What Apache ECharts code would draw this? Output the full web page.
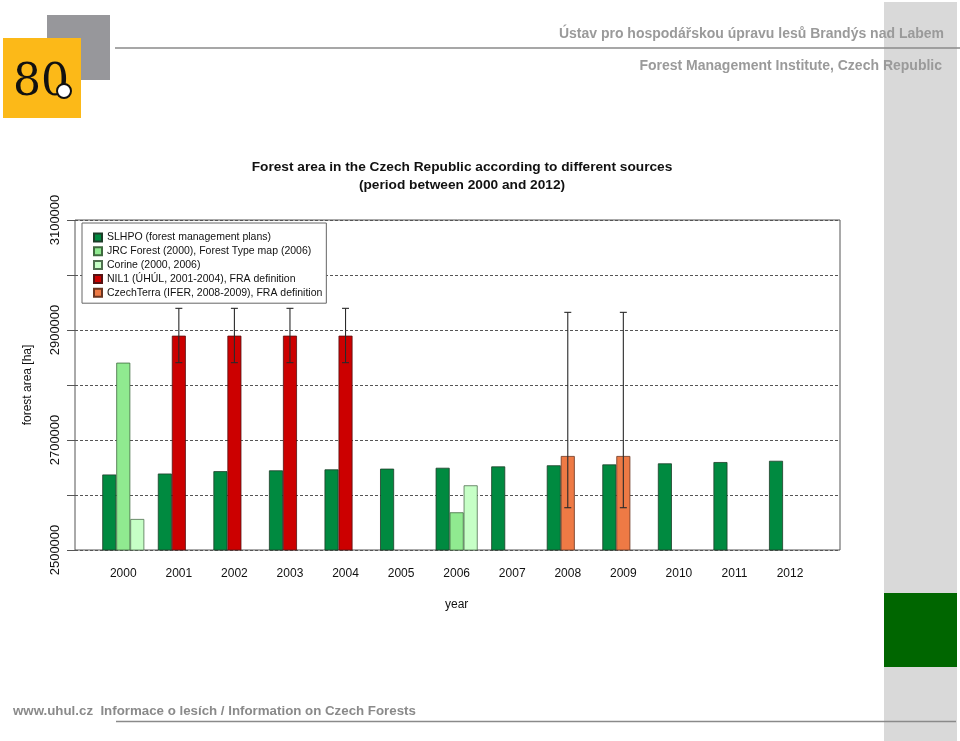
<!DOCTYPE html>
<html>
<head>
<meta charset="utf-8">
<script src="https://cdn.jsdelivr.net/npm/echarts@6/dist/echarts.min.js"></script>
<style>
html,body{margin:0;padding:0;background:#fff;}
#chart{width:960px;height:741px;}
</style>
</head>
<body>
<div id="chart"></div>
<script>
// ---- data ----
const years = ['2000','2001','2002','2003','2004','2005','2006','2007','2008','2009','2010','2011','2012'];
const slhpo = [2637300, 2639000, 2643300, 2644800, 2646600, 2647900, 2649500, 2652000, 2654000, 2655600, 2657500, 2659900, 2662200];
const jrc = [2840600, '-', '-', '-', '-', '-', 2568500, '-', '-', '-', '-', '-', '-'];
const corine = [2556400, '-', '-', '-', '-', '-', 2617600, '-', '-', '-', '-', '-', '-'];
const nil1 = ['-', 2889700, 2889700, 2889700, 2889700, '-', '-', '-', '-', '-', '-', '-', '-'];
const czechTerra = ['-', '-', '-', '-', '-', '-', '-', '-', 2670900, 2670900, '-', '-', '-'];
const errIndex = [1, 2, 3, 4, 8, 9];
const errLow = [2840600, 2840600, 2840600, 2840600, 2576900, 2576900];
const errHigh = [2939400, 2939400, 2939400, 2939400, 2932100, 2932100];
const yTickLabels = [2500000, 2700000, 2900000, 3100000];
const seriesNames = [
  'SLHPO (forest management plans)',
  'JRC Forest (2000), Forest Type map (2006)',
  'Corine (2000, 2006)',
  'NIL1 (ÚHÚL, 2001-2004), FRA definition',
  'CzechTerra (IFER, 2008-2009), FRA definition'
];

const FONT = '"Liberation Sans", Arial, sans-serif';
const errData = errIndex.map((x, i) => [x, errLow[i], errHigh[i]]);

const chart = echarts.init(document.getElementById('chart'), null, {renderer: 'canvas'});

const barBase = {type: 'bar', xAxisIndex: 1, yAxisIndex: 1, barWidth: 14, barGap: '0%'};

const option = {
  animation: false,
  backgroundColor: '#fff',
  textStyle: {fontFamily: FONT},
  title: {
    text: 'Forest area in the Czech Republic according to different sources\n(period between 2000 and 2012)',
    left: 457, top: 153, textAlign: 'center',
    textStyle: {fontSize: 13.7, fontWeight: 'bold', color: '#111', lineHeight: 18, fontFamily: FONT}
  },
  legend: {
    data: seriesNames,
    orient: 'vertical',
    left: 82, top: 223,
    itemWidth: 8, itemHeight: 8, itemGap: 2.8,
    padding: [9, 4, 5, 11],
    borderColor: '#666', borderWidth: 1, backgroundColor: '#fff',
    icon: 'rect',
    textStyle: {fontSize: 10.5, color: '#111', fontFamily: FONT},
    z: 10
  },
  grid: [
    {left: 75, top: 220, width: 765, height: 330, show: true, borderColor: '#555', borderWidth: 1, backgroundColor: 'transparent'},
    {left: 95.5, top: 220, width: 722.3, height: 330}
  ],
  xAxis: [
    {gridIndex: 0, type: 'value', show: false, min: 0, max: 1},
    {gridIndex: 1, type: 'category', data: years,
      axisLine: {show: false}, axisTick: {show: false},
      axisLabel: {fontSize: 12, color: '#111', margin: 18, fontFamily: FONT},
      name: 'year', nameLocation: 'middle', nameGap: 49,
      nameTextStyle: {fontSize: 12, color: '#111', fontFamily: FONT}
    }
  ],
  yAxis: [
    {gridIndex: 0, type: 'value', min: 2500000, max: 3100000, interval: 100000,
      axisLine: {show: false},
      axisTick: {show: true, length: 8, lineStyle: {color: '#555'}},
      axisLabel: {rotate: 90, margin: 13, fontSize: 13, color: '#111', fontFamily: FONT,
        formatter: v => yTickLabels.indexOf(v) >= 0 ? String(v) : ''},
      splitLine: {show: true, lineStyle: {color: '#555', type: [3, 2], width: 1}},
      name: 'forest area [ha]', nameLocation: 'middle', nameRotate: 90, nameGap: 41,
      nameTextStyle: {fontSize: 12, color: '#111', fontFamily: FONT}
    },
    {gridIndex: 1, type: 'value', min: 2500000, max: 3100000, show: false, splitLine: {show: false}}
  ],
  series: [
    Object.assign({}, barBase, {name: seriesNames[0], data: slhpo,
      itemStyle: {color: '#008a40', borderColor: '#1d3d28', borderWidth: 0.8}}),
    Object.assign({}, barBase, {name: seriesNames[1], data: jrc, stack: 'mid',
      itemStyle: {color: '#90ea90', borderColor: '#3f6a3f', borderWidth: 0.8}}),
    Object.assign({}, barBase, {name: seriesNames[2], data: corine,
      itemStyle: {color: '#c6ffc6', borderColor: '#4f6f4f', borderWidth: 0.8}}),
    Object.assign({}, barBase, {name: seriesNames[3], data: nil1, stack: 'mid',
      itemStyle: {color: '#cc0000', borderColor: '#551111', borderWidth: 0.8}}),
    Object.assign({}, barBase, {name: seriesNames[4], data: czechTerra, stack: 'mid',
      itemStyle: {color: '#ee7a45', borderColor: '#6a3520', borderWidth: 0.8}}),
    {
      type: 'custom', name: 'error', xAxisIndex: 1, yAxisIndex: 1, z: 5,
      data: errData,
      encode: {x: 0, y: [1, 2]},
      renderItem: function (params, api) {
        const x = api.value(0);
        const lo = api.coord([x, api.value(1)]);
        const hi = api.coord([x, api.value(2)]);
        const cw = 3.5;
        const st = {stroke: '#2a2a2a', lineWidth: 1.1};
        return {type: 'group', children: [
          {type: 'line', shape: {x1: lo[0], y1: lo[1], x2: hi[0], y2: hi[1]}, style: st},
          {type: 'line', shape: {x1: hi[0] - cw, y1: hi[1], x2: hi[0] + cw, y2: hi[1]}, style: st},
          {type: 'line', shape: {x1: lo[0] - cw, y1: lo[1], x2: lo[0] + cw, y2: lo[1]}, style: st}
        ]};
      }
    }
  ],
  graphic: [
    // right decorative strip
    {type: 'rect', left: 884, top: 2, shape: {width: 73, height: 739}, style: {fill: '#d9d9d9'}, z: -10},
    {type: 'rect', left: 884, top: 593, shape: {width: 73, height: 74}, style: {fill: '#006600'}, z: -9},
    // logo
    {type: 'rect', left: 47, top: 15, shape: {width: 63, height: 65}, style: {fill: '#97979b'}, z: -5},
    {type: 'rect', left: 3, top: 38, shape: {width: 78, height: 80}, style: {fill: '#fcb918'}, z: -4},
    {type: 'text', left: 13, top: 62, style: {text: '80', font: '44px "DejaVu Serif", serif', fill: '#111'}, z: -3},
    {type: 'circle', shape: {cx: 64, cy: 91, r: 7}, style: {fill: '#fff', stroke: '#111', lineWidth: 2}, z: -2},
    // header lines and texts
    {type: 'line', shape: {x1: 115, y1: 48, x2: 960, y2: 48}, style: {stroke: '#8a8a8a', lineWidth: 1.5}, z: -1},
    {type: 'text', x: 944, y: 34, style: {text: 'Ústav pro hospodářskou úpravu lesů Brandýs nad Labem', align: 'right', verticalAlign: 'middle',
      font: 'bold 14px "Liberation Sans Narrow", "Liberation Sans", Arial, sans-serif', fill: '#9a9a9a'}},
    {type: 'text', x: 942, y: 66, style: {text: 'Forest Management Institute, Czech Republic', align: 'right', verticalAlign: 'middle',
      font: 'bold 14px "Liberation Sans Narrow", "Liberation Sans", Arial, sans-serif', fill: '#9a9a9a'}},
    // footer
    {type: 'line', shape: {x1: 116, y1: 721.5, x2: 956, y2: 721.5}, style: {stroke: '#8a8a8a', lineWidth: 1.5}, z: -1},
    {type: 'text', x: 13, y: 711, style: {text: 'www.uhul.cz  Informace o lesích / Information on Czech Forests', align: 'left', verticalAlign: 'middle',
      font: 'bold 13.3px "Liberation Sans", Arial, sans-serif', fill: '#8a8a8a'}}
  ]
};
chart.setOption(option);
</script>
</body>
</html>
